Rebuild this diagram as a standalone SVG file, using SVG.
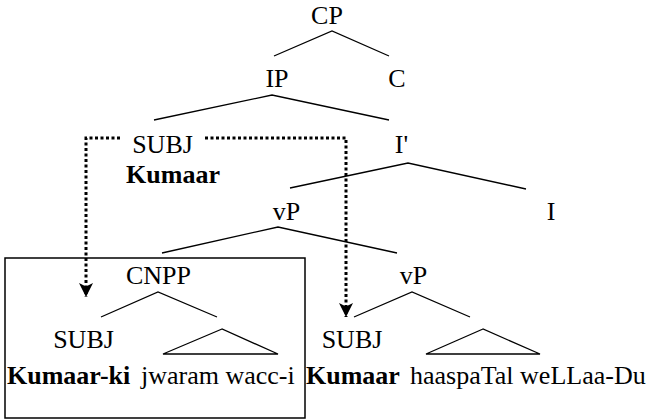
<svg xmlns="http://www.w3.org/2000/svg" width="651" height="420" viewBox="0 0 651 420">
  <style>
    .t text { font-size: 26px; fill: #000; }
    .lbl { text-anchor: middle; }
    .b { font-weight: bold; }
    .edge { stroke: #000; stroke-width: 1.3; fill: none; }
    .move { stroke: #000; stroke-width: 3; stroke-dasharray: 3 2.5; fill: none; }
    .box { stroke: #000; stroke-width: 1.5; fill: none; }
  </style>
  <defs>
    <marker id="head" markerUnits="userSpaceOnUse" markerWidth="14" markerHeight="14" viewBox="0 0 12 12" refX="12" refY="6" orient="auto">
      <path d="M0,0 L12,6 L0,12 L3,6 z" fill="#000"/>
    </marker>
  </defs>

  <rect class="box" x="5" y="258" width="300" height="160"/>

  <g id="connectors">
    <path class="edge" d="M274,56 L332,31 L389,56"/>
    <path class="edge" d="M154,120 L272,95 L389,120"/>
    <path class="edge" d="M290,188 L408,163 L526,189"/>
    <path class="edge" d="M162,253 L278,227 L397,253"/>
    <path class="edge" d="M101,317 L158,292 L217,317"/>
    <path class="edge" d="M354,317 L412,292 L470,317"/>
    <path class="edge" d="M222,329 L163,354 L278,354 Z"/>
    <path class="edge" d="M483,329 L426,354 L540,354 Z"/>
    <path class="move" d="M120,138 H86 V297" marker-end="url(#head)"/>
    <path class="move" d="M205,138 H346 V317" marker-end="url(#head)"/>
  </g>

  <g class="t" font-family="Liberation Serif, Times New Roman, serif">
    <g id="cp"><text class="lbl" x="327" y="24">CP</text></g>
    <g id="ip"><text class="lbl" x="277" y="87">IP</text></g>
    <g id="c"><text class="lbl" x="397" y="87">C</text></g>
    <g id="subj-spec">
      <text class="lbl" x="162.5" y="153">SUBJ</text>
      <text class="lbl b" x="173" y="183">Kumaar</text>
    </g>
    <g id="ibar"><text class="lbl" x="401.5" y="153">I'</text></g>
    <g id="vp"><text class="lbl" x="286.5" y="220">vP</text></g>
    <g id="i"><text class="lbl" x="551" y="220">I</text></g>
    <g id="cnpp"><text class="lbl" x="158.5" y="284">CNPP</text></g>
    <g id="vp2"><text class="lbl" x="413.5" y="284">vP</text></g>
    <g id="subj-cnpp"><text class="lbl" x="83.5" y="348">SUBJ</text></g>
    <g id="subj-vp"><text class="lbl" x="352" y="348">SUBJ</text></g>
    <g id="gloss">
      <text class="b" x="7" y="384">Kumaar-ki</text>
      <text x="141" y="384">jwaram wacc-i</text>
      <text class="b" x="306" y="384">Kumaar</text>
      <text x="410" y="384">haaspaTal weLLaa-Du</text>
    </g>
  </g>
</svg>
